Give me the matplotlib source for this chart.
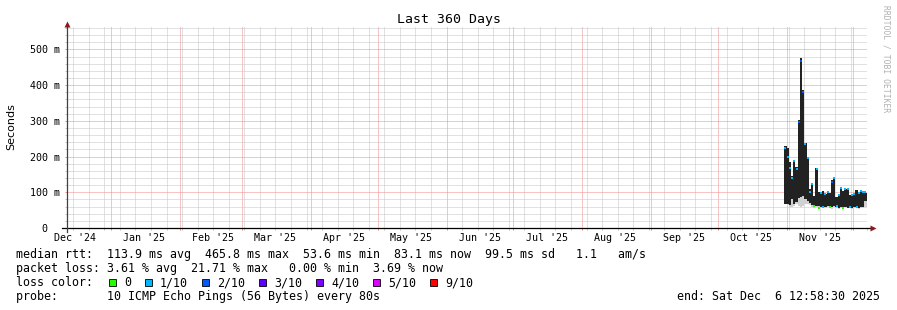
import matplotlib
matplotlib.use("Agg")
import matplotlib.pyplot as plt
import matplotlib.dates as mdates
from matplotlib.patches import Rectangle
from matplotlib.ticker import MultipleLocator, FuncFormatter
from datetime import datetime, timedelta
import numpy as np
import pandas as pd

MONO = "DejaVu Sans Mono"
W, H = 897, 310

# 360 day window shown on the time axis
view_start = datetime(2024, 12, 12, 4, 48)
view_end = view_start + timedelta(days=360)

# daily consolidated values (ms), first day 2025-10-31
first_day = "2025-10-31"
max_ms = [230, 225, 185, 145, 190, 170, 302, 475, 386, 238, 200, 110, 126, 90, 168, 102,
          100, 104, 96, 102, 98, 134, 144, 88, 95, 116, 105, 110, 112, 93, 95, 98,
          107, 100, 107, 105, 98]
dark_min_ms = [68, 66, 64, 80, 66, 72, 85, 88, 90, 80, 75, 70, 65, 58, 62, 62,
               58, 60, 60, 62, 58, 58, 62, 58, 56, 60, 58, 60, 56, 58, 56, 60,
               58, 56, 60, 58, 75]
min_ms = [66, 64, 60, 58, 62, 66, 62, 60, 62, 66, 68, 64, 60, 56, 58, 55,
          56, 58, 56, 58, 55, 54, 58, 56, 54, 56, 55, 58, 55, 56, 54, 57,
          55, 54, 57, 56, 60]
median_ms = [225, 200, 168, 140, 188, 165, 298, 468, 382, 235, 195, 100, 122, 62, 165, 56,
             98, 60, 94, 100, 58, 130, 140, 62, 93, 112, 56, 108, 110, 58, 92, 96,
             60, 98, 105, 102, 100]
loss_tenths = [1, 1, 1, 1, 1, 1, 2, 2, 2, 1, 1, 1, 1, 0, 1, 0,
               1, 1, 1, 1, 0, 2, 1, 1, 1, 1, 0, 1, 1, 1, 1, 1,
               1, 1, 1, 1, 1]

loss_levels = [0, 1, 2, 3, 4, 5, 9]
loss_colors = ["#26ff00", "#00b8ff", "#0059ff", "#5e00ff", "#7e00ff", "#dd00ff", "#ff0000"]
loss_labels = ["0", "1/10", "2/10", "3/10", "4/10", "5/10", "9/10"]

month_labels = ["Dec '24", "Jan '25", "Feb '25", "Mar '25", "Apr '25", "May '25",
                "Jun '25", "Jul '25", "Aug '25", "Sep '25", "Oct '25", "Nov '25"]

rtt_line = "median rtt:  113.9 ms avg  465.8 ms max  53.6 ms min  83.1 ms now  99.5 ms sd   1.1   am/s"
loss_line = "packet loss: 3.61 % avg  21.71 % max   0.00 % min  3.69 % now"
probe_line = "probe:       10 ICMP Echo Pings (56 Bytes) every 80s"
end_line = "end: Sat Dec  6 12:58:30 2025"

fig = plt.figure(figsize=(W / 100, H / 100), dpi=100)
fig.patch.set_facecolor("white")
ax = fig.add_axes([67 / W, (H - 228) / H, 800 / W, 201 / H])
ax.set_facecolor("white")

days = pd.date_range(first_day, periods=len(max_ms), freq="D")
edges = mdates.date2num(list(days) + [days[-1] + pd.Timedelta(days=1)])
def stepped(vals):
    return list(vals) + [vals[-1]]

# smoke: light lower part, dark main body
ax.fill_between(edges, stepped(min_ms), stepped(dark_min_ms), step="post",
                color="#d0d0d0", lw=0, zorder=2)
ax.fill_between(edges, stepped(dark_min_ms), stepped(max_ms), step="post",
                color="#222222", lw=0, zorder=3)

# median coloured by loss
centers = mdates.date2num(days + pd.Timedelta(hours=12))
med = np.array(median_ms)
loss = np.array(loss_tenths)
for lvl, col in zip(loss_levels, loss_colors):
    m = loss == lvl
    if m.any():
        ax.scatter(centers[m], med[m], marker="s", s=2.6, color=col, lw=0, zorder=4)

ax.set_xlim(mdates.date2num(view_start), mdates.date2num(view_end))
ax.set_ylim(0, 563)

# grid
ax.xaxis.set_major_locator(mdates.MonthLocator())
ax.xaxis.set_minor_locator(mdates.WeekdayLocator(byweekday=mdates.SU))
ax.yaxis.set_major_locator(MultipleLocator(100))
ax.yaxis.set_minor_locator(MultipleLocator(20))
ax.grid(which="minor", color="#c4c4c4", lw=0.72, linestyle=(0, (1, 1)), zorder=0)
ax.grid(which="major", color="#f08888", lw=0.72, linestyle=(0, (1, 1)), zorder=1)
ax.set_axisbelow(True)
ax.set_xticklabels([])
ax.yaxis.set_major_formatter(FuncFormatter(lambda v, p: "0  " if v == 0 else f"{v:.0f} m"))
ax.tick_params(which="both", length=1.5, width=0.72)
ax.tick_params(axis="x", which="major", colors="#f08888")
ax.tick_params(axis="x", which="minor", colors="#c4c4c4")
ax.tick_params(axis="y", which="major", colors="#f08888", labelcolor="black",
               labelsize=7.2, pad=3.6)
ax.tick_params(axis="y", which="minor", colors="#c4c4c4")
for lab in ax.get_yticklabels():
    lab.set_family(MONO)
for s in ax.spines.values():
    s.set_visible(False)

# month labels in the middle of each month
mid_months = pd.date_range("2024-12-01", periods=len(month_labels), freq="MS") + pd.Timedelta(days=15)
for d, lab in zip(mid_months, month_labels):
    ax.text(mdates.date2num(d), -0.05, lab, transform=ax.get_xaxis_transform(),
            ha="center", va="center", fontsize=7.2, family=MONO, clip_on=False)

# axes with arrows
ax.plot([-5 / 800, 805 / 800], [0, 0], color="#000000", lw=0.9,
        transform=ax.transAxes, clip_on=False, zorder=5)
ax.plot([0, 0], [-4 / 201, 203 / 201], color="#404040", lw=0.9,
        transform=ax.transAxes, clip_on=False, zorder=5)
ax.plot([806 / 800], [0], marker=">", ms=4.5, color="#8b1a1a", mec="none",
        transform=ax.transAxes, clip_on=False, zorder=6)
ax.plot([0], [204 / 201], marker="^", ms=4.5, color="#8b1a1a", mec="none",
        transform=ax.transAxes, clip_on=False, zorder=6)

fig.text(0.5, 1 - 19 / H, "Last 360 Days", ha="center", va="center",
         fontsize=9.5, family=MONO)
fig.text(11 / W, 1 - 127 / H, "Seconds", rotation=90, ha="center", va="center",
         fontsize=8, family="DejaVu Sans")
fig.text(886 / W, 1 - 5 / H, "RRDTOOL / TOBI OETIKER", rotation=270, ha="center",
         va="top", fontsize=5.8, family=MONO, color="#b0b0b0")

# legend block
char_w = 7.0
x0 = 16
rows = [254.5, 268.5, 282.5, 296.5]
fig.text(x0 / W, 1 - rows[0] / H, rtt_line, ha="left", va="center", fontsize=8.4, family=MONO)
fig.text(x0 / W, 1 - rows[1] / H, loss_line, ha="left", va="center", fontsize=8.4, family=MONO)
fig.text(x0 / W, 1 - rows[2] / H, "loss color:", ha="left", va="center", fontsize=8.4, family=MONO)
cx = 109
for lab, col in zip(loss_labels, loss_colors):
    fig.patches.append(Rectangle((cx / W, 1 - (rows[2] + 3.5) / H), 7 / W, 7 / H,
                                 facecolor=col, edgecolor="black", lw=0.6,
                                 transform=fig.transFigure, figure=fig))
    fig.text((cx + 15) / W, 1 - rows[2] / H, lab, ha="left", va="center",
             fontsize=8.4, family=MONO)
    cx += 15 + len(lab) * char_w + 2 * char_w
fig.text(x0 / W, 1 - rows[3] / H, probe_line, ha="left", va="center", fontsize=8.4, family=MONO)
fig.text(880 / W, 1 - rows[3] / H, end_line, ha="right", va="center", fontsize=8.4, family=MONO)

fig.savefig("out.png", dpi=100, facecolor="white")
